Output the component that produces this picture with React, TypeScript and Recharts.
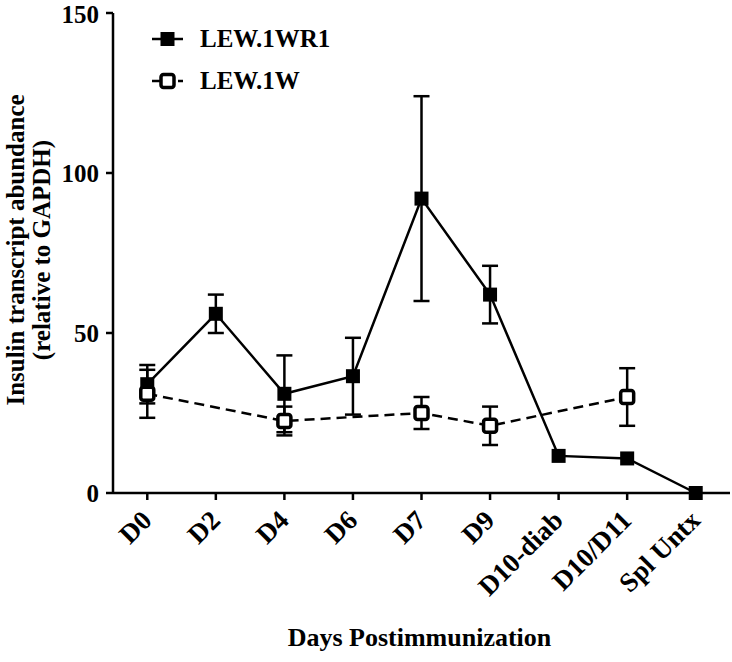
import React from "react";
import {
  LineChart,
  Line,
  XAxis,
  YAxis,
  ErrorBar,
  Legend,
} from "recharts";

const FONT = '"Liberation Serif", "Times New Roman", serif';

const categories = ["D0", "D2", "D4", "D6", "D7", "D9", "D10-diab", "D10/D11", "Spl Untx"];
const wr1Values = [34, 56, 31, 36.5, 92, 62, 11.6, 10.8, 0];
const wr1Errors = [6, 6, 12, 12, 32, 9, null, null, null];
const w1Values = [31, null, 22.5, null, 25, 21, null, 30, null];
const w1Errors = [7.5, null, 4.5, null, 5, 6, null, 9, null];
const yTicks = [0, 50, 100, 150];
const seriesOrder = ["wr1", "w1"];

const data = categories.map((day, i) => ({
  day,
  wr1: wr1Values[i],
  wr1Err: wr1Errors[i],
  w1: w1Values[i],
  w1Err: w1Errors[i],
}));

const FilledSquare = (props: any) => {
  const { cx, cy } = props;
  if (cx == null || cy == null) return <g />;
  return <rect x={cx - 7} y={cy - 7} width={14} height={14} fill="#000" />;
};

const OpenSquare = (props: any) => {
  const { cx, cy } = props;
  if (cx == null || cy == null) return <g />;
  return (
    <rect
      x={cx - 6.5}
      y={cy - 6.5}
      width={13}
      height={13}
      rx={2.5}
      fill="#fff"
      stroke="#000"
      strokeWidth={3.5}
    />
  );
};

const XTick = (props: any) => {
  const { x, y, payload } = props;
  return (
    <g transform={`translate(${x + 6},${y + 18}) rotate(-45)`}>
      <text
        x={0}
        y={0}
        textAnchor="end"
        fontFamily={FONT}
        fontWeight="bold"
        fontSize={27}
        fill="#000"
      >
        {payload.value}
      </text>
    </g>
  );
};

const YTitle = (props: any) => {
  const { viewBox } = props;
  const cy = viewBox.y + viewBox.height / 2 - 3;
  return (
    <g fontFamily={FONT} fontWeight="bold" fontSize={25} fill="#000">
      <text transform={`translate(24,${cy}) rotate(-90)`} textAnchor="middle">
        Insulin transcript abundance
      </text>
      <text transform={`translate(50,${cy}) rotate(-90)`} textAnchor="middle">
        (relative to GAPDH)
      </text>
    </g>
  );
};

const XTitle = (props: any) => {
  const { viewBox } = props;
  return (
    <text
      x={viewBox.x + viewBox.width / 2 - 2}
      y={646}
      textAnchor="middle"
      fontFamily={FONT}
      fontWeight="bold"
      fontSize={26}
      fill="#000"
    >
      Days Postimmunization
    </text>
  );
};

const LegendContent = (props: any) => {
  const items = [...(props.payload || [])].sort(
    (a: any, b: any) => seriesOrder.indexOf(a.dataKey) - seriesOrder.indexOf(b.dataKey)
  );
  return (
    <div style={{ fontFamily: FONT, fontWeight: "bold", fontSize: 25, color: "#000" }}>
      {items.map((entry: any) => {
        const dashed = entry.dataKey === "w1";
        return (
          <div
            key={entry.value}
            style={{ display: "flex", alignItems: "center", height: 42 }}
          >
            <svg width={36} height={20}>
              <line
                x1={2}
                y1={10}
                x2={33}
                y2={10}
                stroke="#000"
                strokeWidth={2.5}
                strokeDasharray={dashed ? "8 5" : undefined}
              />
              {dashed ? (
                <rect x={11} y={3.5} width={13} height={13} rx={2.5} fill="#fff" stroke="#000" strokeWidth={3.5} />
              ) : (
                <rect x={10.5} y={3} width={14} height={14} fill="#000" />
              )}
            </svg>
            <span style={{ marginLeft: 14 }}>{entry.value}</span>
          </div>
        );
      })}
    </div>
  );
};

export default function App() {
  return (
    <div style={{ position: "absolute", left: 0, top: 0 }}>
      <LineChart
        width={732}
        height={662}
        data={data}
        margin={{ top: 13, right: 2, left: 0, bottom: 0 }}
      >
        <XAxis
          dataKey="day"
          scale="band"
          height={169}
          stroke="#000"
          strokeWidth={2.5}
          tickSize={7}
          tickMargin={4}
          tick={<XTick />}
          interval={0}
          label={<XTitle />}
        />
        <YAxis
          width={113}
          domain={[0, 150]}
          ticks={yTicks}
          stroke="#000"
          strokeWidth={2.5}
          tickSize={7}
          tickMargin={7}
          tick={{ fontFamily: FONT, fontWeight: "bold", fontSize: 25, fill: "#000" }}
          label={<YTitle />}
        />
        <Legend
          layout="vertical"
          align="center"
          verticalAlign="middle"
          content={<LegendContent />}
          wrapperStyle={{ left: 150, top: 18, width: "auto", height: "auto" }}
        />
        <Line
          dataKey="wr1"
          name="LEW.1WR1"
          stroke="#000"
          strokeWidth={2.5}
          dot={<FilledSquare />}
          activeDot={false}
          connectNulls
          isAnimationActive={false}
        >
          <ErrorBar dataKey="wr1Err" width={8} stroke="#000" strokeWidth={2.5} direction="y" />
        </Line>
        <Line
          dataKey="w1"
          name="LEW.1W"
          stroke="#000"
          strokeWidth={2.5}
          strokeDasharray="10 6"
          dot={<OpenSquare />}
          activeDot={false}
          connectNulls
          isAnimationActive={false}
        >
          <ErrorBar dataKey="w1Err" width={8} stroke="#000" strokeWidth={2.5} direction="y" />
        </Line>
      </LineChart>
    </div>
  );
}
